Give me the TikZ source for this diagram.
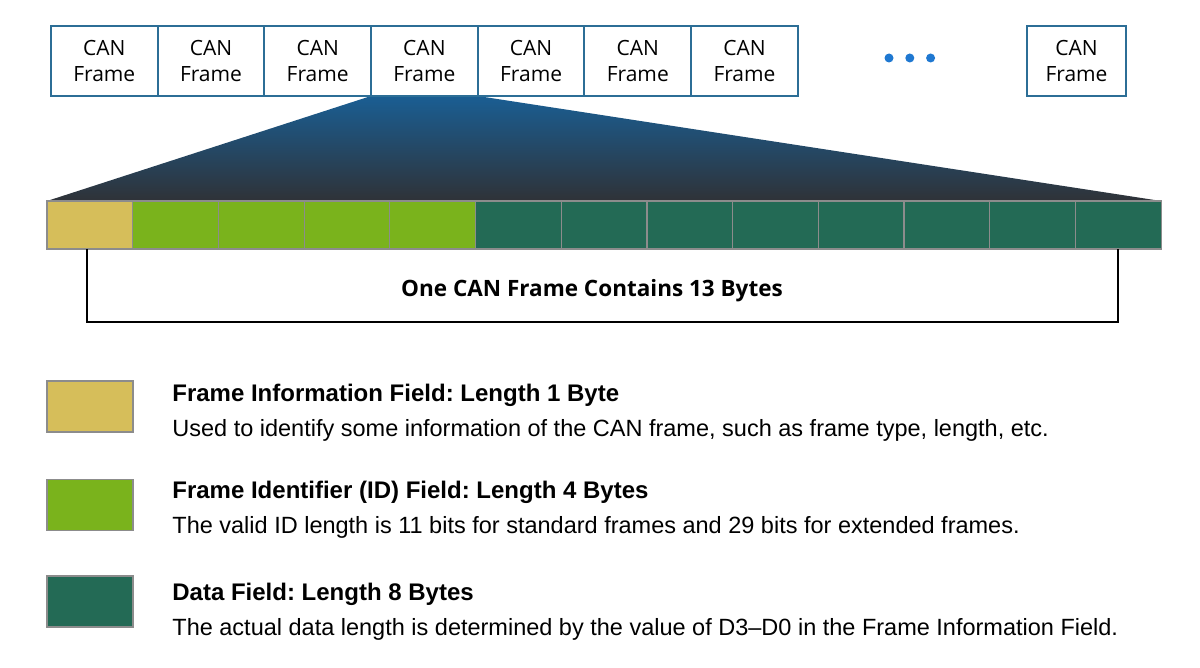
\documentclass[tikz,border=0pt]{standalone}
\usepackage{fontspec}
\setmainfont{Liberation Sans}
\newfontfamily\openfont{Open Sans}
\usepackage{xcolor}
\usepackage{tikz}
\usetikzlibrary{positioning,backgrounds}

\definecolor{frameblue}{HTML}{2C6E96}
\definecolor{dotblue}{HTML}{1F78D1}
\definecolor{fantop}{HTML}{1A5E93}
\definecolor{fanbottom}{HTML}{2F3237}
\definecolor{infoyellow}{HTML}{D6BE5A}
\definecolor{idgreen}{HTML}{7AB31C}
\definecolor{datagreen}{HTML}{236A55}
\definecolor{cellgrey}{HTML}{8C8C8C}

\frenchspacing
\begin{document}
\begin{tikzpicture}[x=0.5pt, y=-0.5pt,
frame/.style={draw=frameblue, line width=1pt, fill=white, minimum width=53.35pt, minimum height=35pt, inner sep=0pt, outer sep=0pt, align=center, font=\openfont\fontsize{10.5}{13}\selectfont},
cell/.style={draw=cellgrey, line width=0.6pt, minimum width=42.85pt, minimum height=24pt, inner sep=0pt, outer sep=0pt},
info/.style={cell, fill=infoyellow},
ident/.style={cell, fill=idgreen},
data/.style={cell, fill=datagreen},
dot/.style={circle, fill=dotblue, inner sep=0pt, minimum size=4.5pt},
keybox/.style={draw=cellgrey, line width=0.6pt, minimum width=43pt, minimum height=25.5pt, inner sep=0pt},
keytitle/.style={anchor=base west, inner sep=0pt, font=\bfseries\fontsize{12}{14}\selectfont},
keytext/.style={anchor=base west, inner sep=0pt, font=\fontsize{11.75}{14}\selectfont},
bracket/.style={draw=black, line width=0.7pt}
]
\useasboundingbox (0,0) rectangle (1200,668);

% stream of frames
\node[frame] (f1) at (104.3,61) {CAN\\Frame};
\node[frame, right=0pt of f1] (f2) {CAN\\Frame};
\node[frame, right=0pt of f2] (f3) {CAN\\Frame};
\node[frame, right=0pt of f3] (f4) {CAN\\Frame};
\node[frame, right=0pt of f4] (f5) {CAN\\Frame};
\node[frame, right=0pt of f5] (f6) {CAN\\Frame};
\node[frame, right=0pt of f6] (f7) {CAN\\Frame};
\node[dot] (d1) at (889,58) {};
\node[dot, right=5.5pt of d1] (d2) {};
\node[dot, right=5.5pt of d2] (d3) {};
\node[frame, minimum width=49.5pt] (flast) at (1076.5,61) {CAN\\Frame};

% the 13 bytes
\node[info, anchor=west] (c1) at (47,225) {};
\node[ident, right=0pt of c1] (c2) {};
\node[ident, right=0pt of c2] (c3) {};
\node[ident, right=0pt of c3] (c4) {};
\node[ident, right=0pt of c4] (c5) {};
\node[data, right=0pt of c5] (c6) {};
\node[data, right=0pt of c6] (c7) {};
\node[data, right=0pt of c7] (c8) {};
\node[data, right=0pt of c8] (c9) {};
\node[data, right=0pt of c9] (c10) {};
\node[data, right=0pt of c10] (c11) {};
\node[data, right=0pt of c11] (c12) {};
\node[data, right=0pt of c12] (c13) {};

\begin{scope}[on background layer]
\shade[top color=fantop, bottom color=fanbottom] (f4.south west) -- (f4.south east) -- (c13.north east) -- (c1.north west) -- cycle;
\end{scope}

% bracket
\coordinate (bracketL) at (87,249);
\coordinate (bracketR) at (1118,249);
\draw[bracket] (bracketL) -- ++(0,73) -| (bracketR);
\node[font=\openfont\bfseries\fontsize{11.25}{13}\selectfont] (total) at (592,291) {One CAN Frame Contains 13 Bytes};

% legend
\node[keybox, fill=infoyellow] (key1) at (90,406.5) {};
\node[keybox, fill=idgreen] (key2) at (90,505) {};
\node[keybox, fill=datagreen] (key3) at (90,601.5) {};
\node[keytitle] (t1) at (172,401) {Frame Information Field: Length 1 Byte};
\node[keytext] (s1) at (172,437) {Used to identify some information of the CAN frame, such as frame type, length, etc.};
\node[keytitle] (t2) at (172,498) {Frame Identifier (ID) Field: Length 4 Bytes};
\node[keytext] (s2) at (172,533) {The valid ID length is 11 bits for standard frames and 29 bits for extended frames.};
\node[keytitle] (t3) at (172,600) {Data Field: Length 8 Bytes};
\node[keytext] (s3) at (172,635) {The actual data length is determined by the value of D3--D0 in the Frame Information Field.};
\end{tikzpicture}
\end{document}
